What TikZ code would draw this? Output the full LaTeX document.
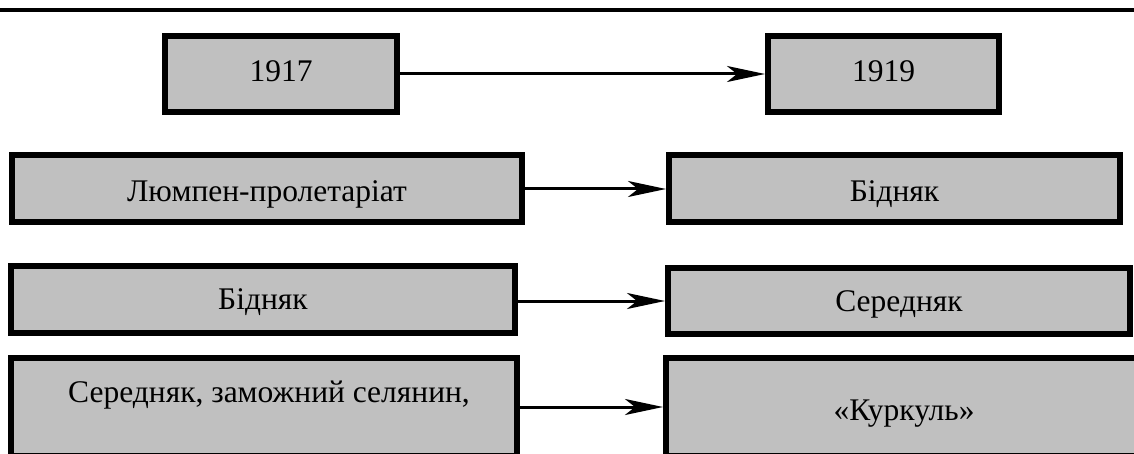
\documentclass[tikz,border=0pt]{standalone}
\usepackage{fontspec}
\setmainfont{Liberation Serif}
\usetikzlibrary{arrows.meta}
\definecolor{boxgray}{HTML}{C0C0C0}
\begin{document}
\begin{tikzpicture}[x=1pt,y=-1pt,
  box/.style={draw=black, fill=boxgray, line width=6pt, inner sep=0pt,
    font=\fontsize{31.5}{37}\selectfont, text depth=0pt},
  bl/.style={text height=2*#1},
  arr/.style={line width=3pt, -{Stealth[length=38pt, width=16pt, inset=10pt]}}]
\clip (0,0) rectangle (1134,454);
\fill[white] (0,0) rectangle (1134,454);
\draw[line width=4pt] (0,10) -- (1134,10);
% row 1
\node[box, bl=8pt, minimum width=232pt, minimum height=76pt] (a1) at (281,74) {1917};
\node[box, bl=8pt, minimum width=231pt, minimum height=76pt] (b1) at (883.5,74) {1919};
\draw[arr] (a1) -- (b1);
% row 2
\node[box, bl=13pt, minimum width=510pt, minimum height=67pt] (a2) at (267,189) {Люмпен-пролетаріат};
\node[box, bl=13pt, minimum width=451pt, minimum height=67pt] (b2) at (894.5,189) {Бідняк};
\draw[arr] (a2) -- (b2);
% row 3
\node[box, bl=10pt, minimum width=504pt, minimum height=67pt] (a3) at (263,299.5) {Бідняк};
\node[box, bl=10pt, minimum width=462pt, minimum height=66pt] (b3) at (899,301) {Середняк};
\draw[arr] (a3.east |- b3.west) -- (b3.west);
% row 4
\node[box, text height=0pt, text depth=10pt, minimum width=506pt, minimum height=98pt] (a4) at (264,407) {\hspace*{10pt}Середняк, заможний селянин,};
\node[box, bl=13pt, minimum width=476pt, minimum height=98pt] (b4) at (904,407) {«Куркуль»};
\draw[arr] (a4) -- (b4);
\end{tikzpicture}
\end{document}
